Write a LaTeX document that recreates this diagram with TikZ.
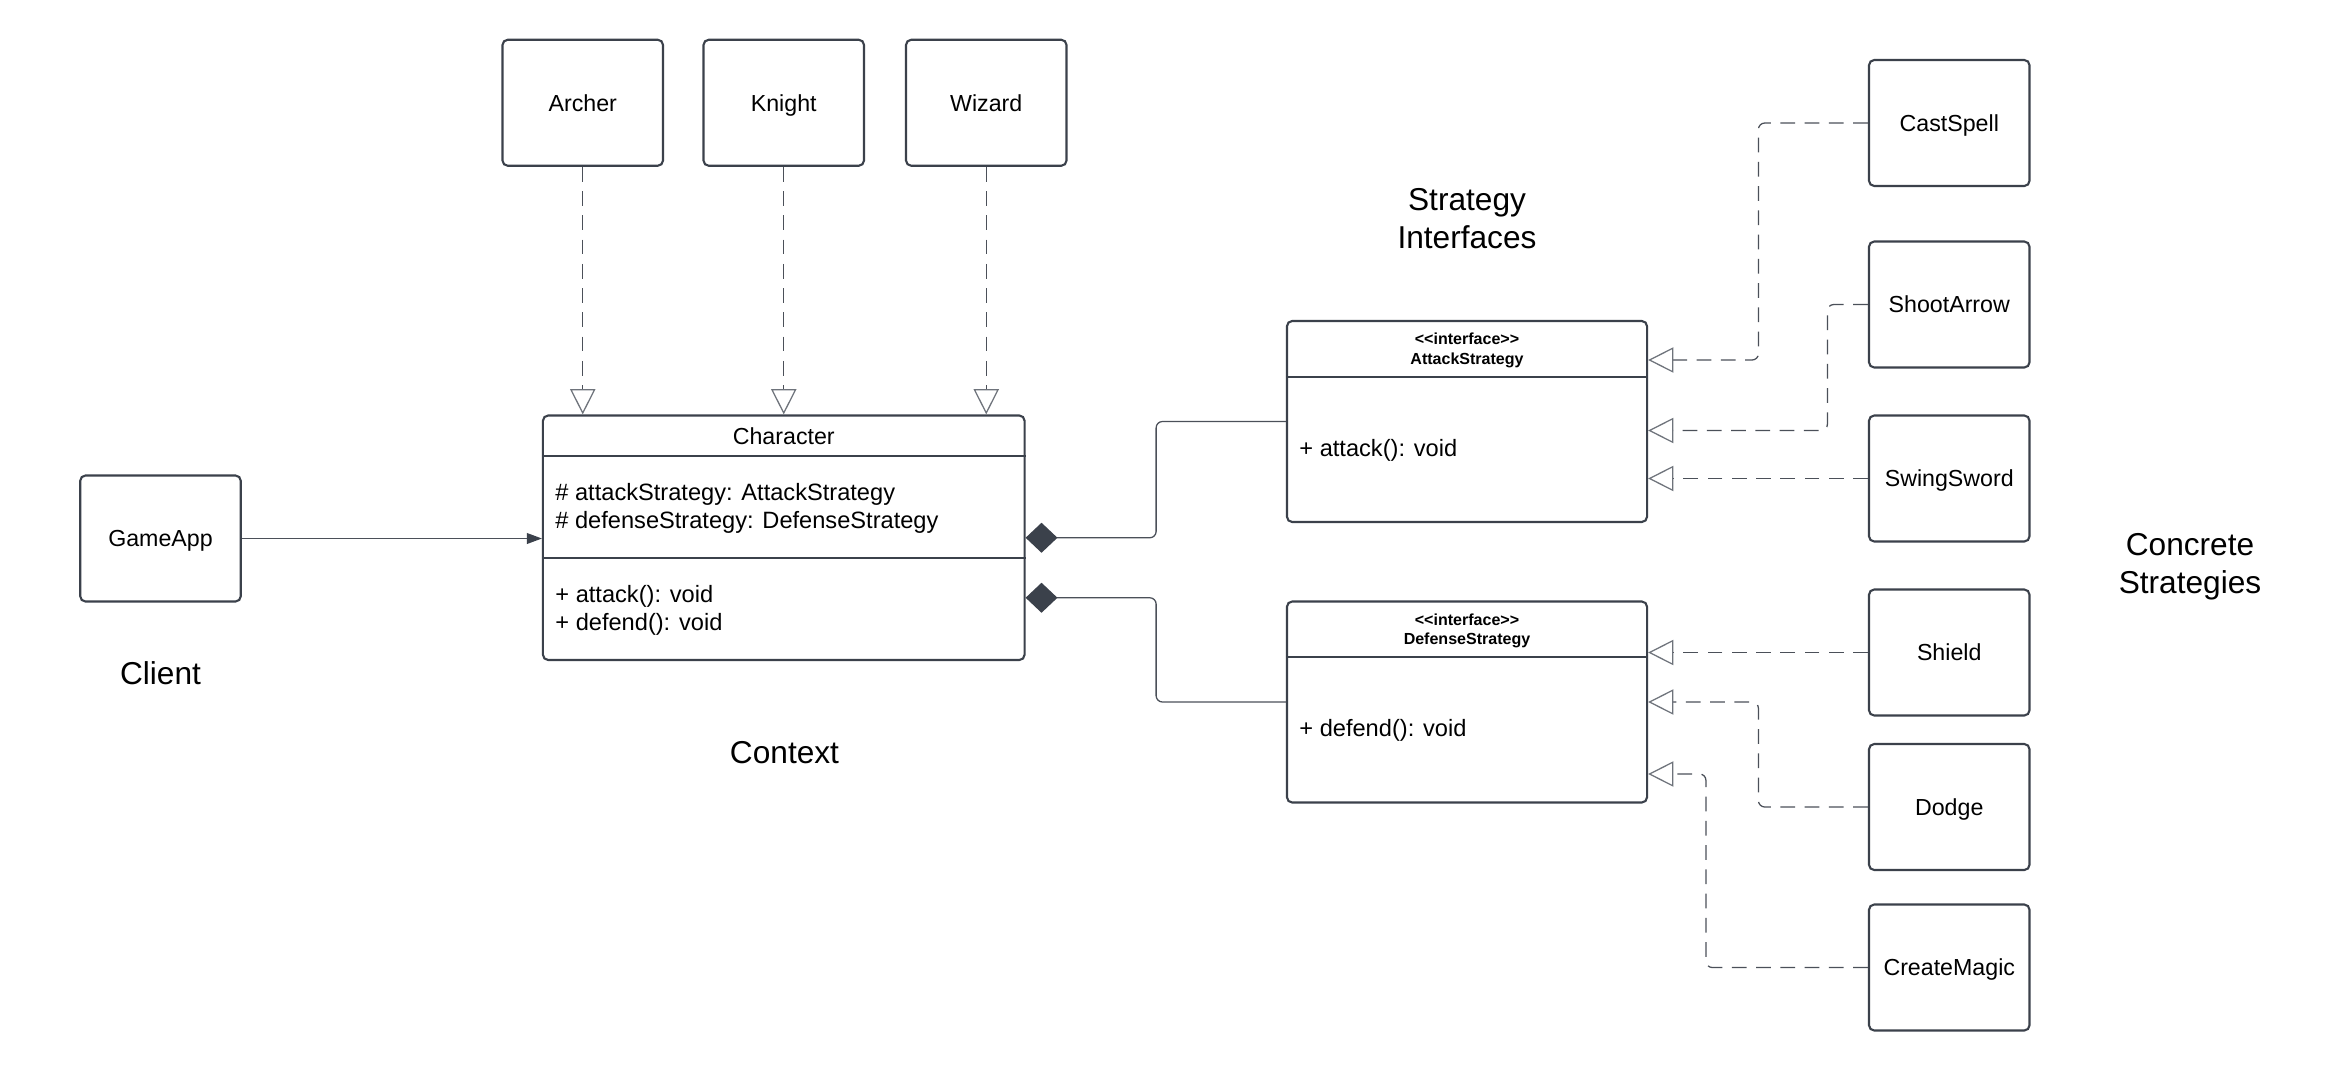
\documentclass[tikz,border=0pt]{standalone}
\usepackage{fontspec}
\setmainfont{Liberation Sans}
\usetikzlibrary{arrows.meta,calc,positioning}
\definecolor{boxc}{HTML}{3B414B}
\definecolor{linec}{HTML}{4B5059}
\definecolor{tipc}{HTML}{6E737B}
\newcommand{\lt}{\textless\kern0pt\textless}
\newcommand{\gt}{\textgreater\kern0pt\textgreater}
\tikzset{
  box/.style={draw=boxc, line width=1pt, rounded corners=2.5pt, fill=white,
    minimum width=2.675cm, minimum height=2.1cm, text height=8pt, text depth=0pt,
    font=\fontsize{11}{13}\selectfont},
  cls/.style={draw=boxc, line width=1pt, rounded corners=2.5pt,
    minimum width=6cm, minimum height=3.35cm},
  member/.style={anchor=west, align=left, inner sep=0pt, font=\fontsize{11.2}{13}\selectfont},
  head/.style={align=center, font=\bfseries\fontsize{7.6}{9.2}\selectfont},
  lbl/.style={align=center, font=\fontsize{15}{18}\selectfont},
  real/.style={draw=linec, line width=0.6pt, dash pattern=on 7pt off 4.5pt, rounded corners=3pt,
    -{Triangle[open, length=0.42cm, width=0.42cm, fill=white, color=tipc]}},
  comp/.style={draw=linec, line width=0.6pt, rounded corners=3pt,
    {Diamond[length=0.53cm, width=0.5cm, fill=boxc, color=boxc]}-},
}
\begin{document}
\begin{tikzpicture}[x=0.025cm, y=-0.025cm]
  \useasboundingbox (0,0) rectangle (1560,711);

  % context
  \node[cls, minimum width=8.025cm, minimum height=4.075cm] (character) at (522.5,358.5) {};
  \draw[boxc, line width=1pt] ($(character.north west)+(0,28)$) -- ($(character.north east)+(0,28)$);
  \draw[boxc, line width=1pt] ($(character.north west)+(0,96)$) -- ($(character.north east)+(0,96)$);
  \node[font=\fontsize{11}{13}\selectfont, text height=8pt, text depth=0pt] (chartitle) at (522.5,291) {Character};
  \node[member] (charattr) at (370,339) {\# attackStrategy: AttackStrategy\\\# defenseStrategy: DefenseStrategy};
  \node[member] (charop) at (370,407) {+ attack(): void\\+ defend(): void};

  \node[box] (archer) at (388.5,68.5) {Archer};
  \node[box] (knight) at (522.5,68.5) {Knight};
  \node[box] (wizard) at (657.5,68.5) {Wizard};
  \node[box] (gameapp) at (107,359) {GameApp};

  % strategy interfaces
  \node[cls] (attack) at (978,281) {};
  \draw[boxc, line width=1pt] ($(attack.north west)+(0,38)$) -- ($(attack.north east)+(0,38)$);
  \node[head] (attackhead) at (978,233.5) {\lt interface\gt\\AttackStrategy};
  \node[member] (attackop) at (866,300) {+ attack(): void};

  \node[cls] (defense) at (978,468) {};
  \draw[boxc, line width=1pt] ($(defense.north west)+(0,38)$) -- ($(defense.north east)+(0,38)$);
  \node[head] (defensehead) at (978,420.5) {\lt interface\gt\\DefenseStrategy};
  \node[member] (defenseop) at (866,487) {+ defend(): void};

  % concrete strategies
  \node[box] (castspell) at (1299.5,82) {CastSpell};
  \node[box] (shootarrow) at (1299.5,203) {ShootArrow};
  \node[box] (swingsword) at (1299.5,319) {SwingSword};
  \node[box] (shield) at (1299.5,435) {Shield};
  \node[box] (dodge) at (1299.5,538) {Dodge};
  \node[box] (createmagic) at (1299.5,645) {CreateMagic};

  \node[lbl] (client) at (107,449) {Client};
  \node[lbl] (context) at (523,502) {Context};
  \node[lbl] (ifaces) at (978,146) {Strategy\\Interfaces};
  \node[lbl] (concrete) at (1460,378) {Concrete\\Strategies};

  % connectors
  \draw[real] (archer.south) -- (archer.south |- character.north);
  \draw[real] (knight.south) -- (knight.south |- character.north);
  \draw[real] (wizard.south) -- (wizard.south |- character.north);
  \draw[draw=linec, line width=0.6pt, -{Triangle[length=0.25cm, width=0.18cm, fill=boxc, color=boxc]}]
    (gameapp.east) -- (gameapp.east -| character.west);

  \draw[comp] (character.east) -- ++(87,0) |- (attack.west);
  \draw[comp] ($(character.east)+(0,40)$) -- ++(87,0) |- (defense.west);

  \draw[real] (castspell.west) -- ++(-73,0) |- ($(attack.east)+(0,-41)$);
  \draw[real] (shootarrow.west) -- ++(-27,0) |- ($(attack.east)+(0,6)$);
  \draw[real] (swingsword.west) -- (attack.east |- swingsword.west);
  \draw[real] (shield.west) -- (defense.east |- shield.west);
  \draw[real] (dodge.west) -- ++(-73,0) |- (defense.east);
  \draw[real] (createmagic.west) -- ++(-108,0) |- ($(defense.east)+(0,48)$);
\end{tikzpicture}
\end{document}
